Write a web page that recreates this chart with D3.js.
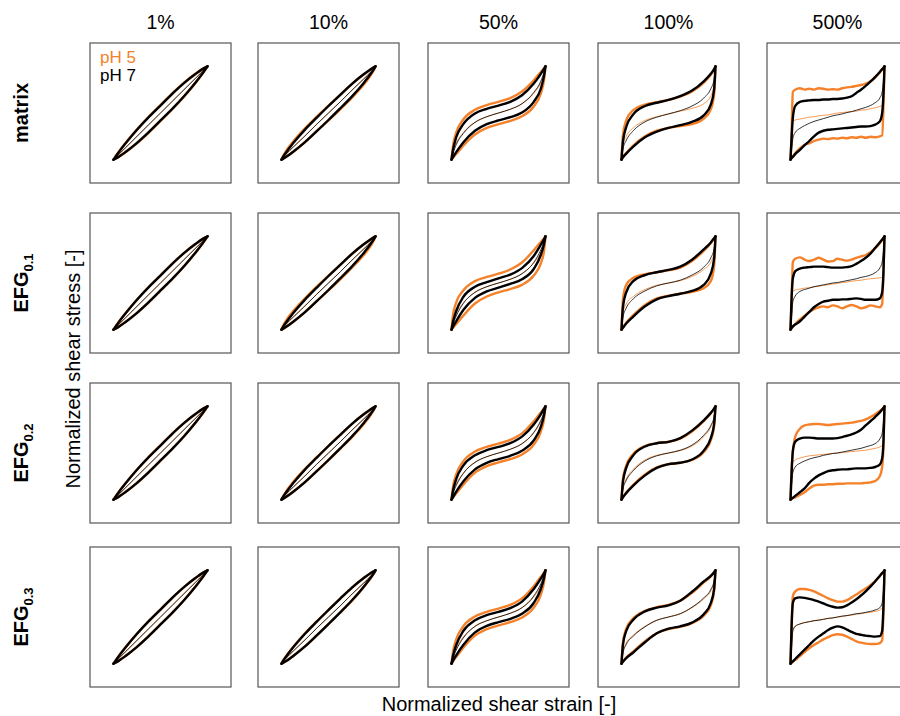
<!DOCTYPE html>
<html>
<head>
<meta charset="utf-8">
<title>Lissajous curves</title>
<script src="https://d3js.org/d3.v7.min.js"></script>
<style>
  body { margin: 0; background: #fff; }
  text { font-family: "Liberation Sans", Arial, sans-serif; }
</style>
</head>
<body>
<div id="chart"></div>
<script>
// strain grid (normalized) used for the 1% - 100% panels, and a finer one for 500%
var strainA = [-1, -0.97, -0.9, -0.75, -0.5, -0.25, 0, 0.25, 0.5, 0.75, 0.9, 0.97, 1];
var strainB = [-1, -0.98, -0.95, -0.9, -0.8, -0.7, -0.6, -0.5, -0.4, -0.3, -0.2, -0.1, 0,
               0.1, 0.2, 0.3, 0.4, 0.5, 0.6, 0.7, 0.8, 0.9, 0.95, 0.98, 1];

var amplitudes = ["1%", "10%", "50%", "100%", "500%"];
var samples = [["matrix", ""], ["EFG", "0.1"], ["EFG", "0.2"], ["EFG", "0.3"]];
var phLabels = ["pH 5", "pH 7"];

// normalized stress, one list per amplitude (upper branch, lower branch, elastic part)
// ---- matrix
var matrixUp5 = [
  [-1, -0.95, -0.85, -0.65, -0.35, -0.08, 0.17, 0.42, 0.65, 0.845, 0.945, 0.985, 1],
  [-1, -0.93, -0.81, -0.61, -0.33, -0.08, 0.16, 0.39, 0.625, 0.83, 0.94, 0.985, 1],
  [-1, -0.72, -0.42, -0.14, 0.07, 0.17, 0.24, 0.32, 0.46, 0.7, 0.88, 0.96, 1],
  [-1, -0.48, -0.16, 0.06, 0.18, 0.23, 0.28, 0.35, 0.46, 0.65, 0.82, 0.93, 1],
  [-1, -0.55, 0.45, 0.5, 0.53, 0.5, 0.52, 0.5, 0.53, 0.52, 0.5, 0.51, 0.5, 0.53, 0.55, 0.56, 0.58, 0.6, 0.63, 0.68, 0.76, 0.87, 0.93, 0.97, 1]
];
var matrixLo5 = [
  [-1, -0.985, -0.945, -0.845, -0.65, -0.42, -0.17, 0.08, 0.35, 0.65, 0.85, 0.95, 1],
  [-1, -0.985, -0.94, -0.83, -0.625, -0.39, -0.16, 0.08, 0.33, 0.61, 0.81, 0.93, 1],
  [-1, -0.96, -0.88, -0.7, -0.46, -0.32, -0.24, -0.17, -0.07, 0.14, 0.42, 0.72, 1],
  [-1, -0.94, -0.86, -0.7, -0.5, -0.38, -0.32, -0.28, -0.24, -0.12, 0.08, 0.4, 1],
  [-1, -0.97, -0.93, -0.86, -0.76, -0.68, -0.65, -0.6, -0.57, -0.55, -0.56, -0.54, -0.55, -0.53, -0.54, -0.52, -0.53, -0.51, -0.53, -0.51, -0.52, -0.5, -0.48, 0.2, 1]
];
var matrixMid5 = [
  [-1, -0.97, -0.9, -0.75, -0.5, -0.25, 0, 0.25, 0.5, 0.75, 0.9, 0.97, 1],
  [-1, -0.96, -0.88, -0.73, -0.49, -0.24, 0, 0.24, 0.49, 0.73, 0.88, 0.96, 1],
  [-1, -0.84, -0.65, -0.42, -0.2, -0.08, 0, 0.08, 0.2, 0.42, 0.65, 0.84, 1],
  [-1, -0.7, -0.5, -0.32, -0.16, -0.08, -0.02, 0.04, 0.1, 0.2, 0.36, 0.62, 1],
  [null, null, -0.17, -0.15, -0.13, -0.11, -0.09, -0.08, -0.06, -0.05, -0.04, -0.02, 0, 0.01, 0.02, 0.03, 0.04, 0.06, 0.07, 0.09, 0.11, 0.14, 0.16, null, null]
];
var matrixUp7 = [
  [-1, -0.955, -0.855, -0.66, -0.36, -0.09, 0.16, 0.41, 0.64, 0.84, 0.945, 0.985, 1],
  [-1, -0.945, -0.84, -0.645, -0.355, -0.1, 0.15, 0.39, 0.625, 0.83, 0.94, 0.985, 1],
  [-1, -0.8, -0.52, -0.24, -0.01, 0.09, 0.16, 0.24, 0.38, 0.63, 0.84, 0.95, 1],
  [-1, -0.62, -0.3, -0.03, 0.15, 0.22, 0.28, 0.36, 0.48, 0.68, 0.84, 0.94, 1],
  [-1, -0.6, -0.1, 0.15, 0.24, 0.26, 0.27, 0.28, 0.28, 0.29, 0.29, 0.3, 0.3, 0.31, 0.33, 0.36, 0.43, 0.5, 0.58, 0.67, 0.77, 0.88, 0.94, 0.97, 1]
];
var matrixLo7 = [
  [-1, -0.985, -0.945, -0.84, -0.64, -0.41, -0.16, 0.09, 0.36, 0.66, 0.855, 0.955, 1],
  [-1, -0.985, -0.94, -0.83, -0.625, -0.39, -0.15, 0.1, 0.355, 0.645, 0.84, 0.945, 1],
  [-1, -0.95, -0.84, -0.63, -0.38, -0.24, -0.16, -0.09, 0.01, 0.24, 0.52, 0.8, 1],
  [-1, -0.95, -0.87, -0.72, -0.52, -0.4, -0.32, -0.26, -0.19, -0.05, 0.18, 0.5, 1],
  [-1, -0.97, -0.94, -0.88, -0.79, -0.69, -0.6, -0.5, -0.42, -0.38, -0.36, -0.35, -0.34, -0.33, -0.32, -0.31, -0.3, -0.29, -0.29, -0.28, -0.25, -0.18, 0, 0.45, 1]
];
var matrixMid7 = [
  [-1, -0.97, -0.9, -0.75, -0.5, -0.25, 0, 0.25, 0.5, 0.75, 0.9, 0.97, 1],
  [-1, -0.96, -0.88, -0.73, -0.49, -0.24, 0, 0.24, 0.49, 0.73, 0.88, 0.96, 1],
  [-1, -0.88, -0.68, -0.44, -0.2, -0.08, 0, 0.08, 0.2, 0.44, 0.68, 0.88, 1],
  [-1, -0.78, -0.59, -0.38, -0.19, -0.09, -0.02, 0.05, 0.15, 0.32, 0.52, 0.72, 1],
  [-1, -0.8, -0.55, -0.42, -0.33, -0.27, -0.22, -0.18, -0.15, -0.12, -0.09, -0.06, -0.04, -0.02, 0.01, 0.03, 0.06, 0.09, 0.12, 0.16, 0.22, 0.32, 0.45, 0.7, 1]
];

// ---- EFG 0.1
var efg1Up5 = [
  [-1, -0.95, -0.85, -0.655, -0.355, -0.085, 0.165, 0.415, 0.645, 0.84, 0.945, 0.985, 1],
  [-1, -0.925, -0.8, -0.6, -0.33, -0.08, 0.16, 0.39, 0.625, 0.83, 0.94, 0.985, 1],
  [-1, -0.7, -0.42, -0.16, 0.04, 0.13, 0.2, 0.29, 0.44, 0.7, 0.88, 0.96, 1],
  [-1, -0.36, -0.04, 0.11, 0.19, 0.23, 0.27, 0.33, 0.47, 0.69, 0.85, 0.95, 1],
  [-1, -0.5, 0.45, 0.52, 0.55, 0.5, 0.47, 0.5, 0.54, 0.5, 0.46, 0.47, 0.52, 0.5, 0.48, 0.5, 0.54, 0.57, 0.6, 0.66, 0.74, 0.85, 0.92, 0.96, 1]
];
var efg1Lo5 = [
  [-1, -0.985, -0.945, -0.84, -0.645, -0.415, -0.165, 0.085, 0.355, 0.655, 0.85, 0.95, 1],
  [-1, -0.985, -0.94, -0.83, -0.625, -0.39, -0.16, 0.08, 0.33, 0.6, 0.8, 0.925, 1],
  [-1, -0.96, -0.88, -0.7, -0.44, -0.29, -0.2, -0.13, -0.04, 0.16, 0.42, 0.7, 1],
  [-1, -0.95, -0.85, -0.69, -0.47, -0.33, -0.27, -0.23, -0.19, -0.11, 0.04, 0.36, 1],
  [-1, -0.97, -0.94, -0.88, -0.78, -0.7, -0.62, -0.56, -0.52, -0.5, -0.52, -0.48, -0.5, -0.54, -0.5, -0.47, -0.5, -0.54, -0.52, -0.48, -0.5, -0.52, -0.45, 0.3, 1]
];
var efg1Mid5 = [
  [-1, -0.97, -0.9, -0.75, -0.5, -0.25, 0, 0.25, 0.5, 0.75, 0.9, 0.97, 1],
  [-1, -0.96, -0.88, -0.73, -0.49, -0.24, 0, 0.24, 0.49, 0.73, 0.88, 0.96, 1],
  [-1, -0.83, -0.65, -0.43, -0.2, -0.08, 0, 0.08, 0.2, 0.43, 0.65, 0.83, 1],
  [-1, -0.66, -0.45, -0.29, -0.14, -0.05, 0, 0.05, 0.14, 0.29, 0.45, 0.66, 1],
  [null, null, -0.17, -0.15, -0.13, -0.11, -0.1, -0.08, -0.07, -0.05, -0.04, -0.02, -0.01, 0.01, 0.02, 0.04, 0.05, 0.06, 0.08, 0.09, 0.1, 0.11, 0.12, null, null]
];
var efg1Up7 = [
  [-1, -0.955, -0.855, -0.66, -0.36, -0.09, 0.16, 0.41, 0.64, 0.84, 0.945, 0.985, 1],
  [-1, -0.945, -0.84, -0.645, -0.355, -0.1, 0.15, 0.39, 0.625, 0.83, 0.94, 0.985, 1],
  [-1, -0.84, -0.6, -0.3, -0.08, 0.02, 0.1, 0.18, 0.32, 0.58, 0.82, 0.94, 1],
  [-1, -0.52, -0.2, 0.04, 0.17, 0.23, 0.28, 0.35, 0.5, 0.72, 0.87, 0.96, 1],
  [-1, -0.4, 0.1, 0.25, 0.31, 0.33, 0.34, 0.35, 0.35, 0.35, 0.34, 0.33, 0.33, 0.33, 0.34, 0.36, 0.41, 0.47, 0.54, 0.63, 0.75, 0.87, 0.93, 0.97, 1]
];
var efg1Lo7 = [
  [-1, -0.985, -0.945, -0.84, -0.64, -0.41, -0.16, 0.09, 0.36, 0.66, 0.855, 0.955, 1],
  [-1, -0.985, -0.94, -0.83, -0.625, -0.39, -0.15, 0.1, 0.355, 0.645, 0.84, 0.945, 1],
  [-1, -0.94, -0.82, -0.58, -0.32, -0.18, -0.1, -0.02, 0.08, 0.3, 0.6, 0.84, 1],
  [-1, -0.96, -0.87, -0.72, -0.5, -0.35, -0.28, -0.23, -0.17, -0.04, 0.2, 0.52, 1],
  [-1, -0.97, -0.93, -0.89, -0.82, -0.72, -0.62, -0.52, -0.45, -0.4, -0.38, -0.36, -0.36, -0.35, -0.35, -0.34, -0.33, -0.34, -0.36, -0.36, -0.36, -0.33, -0.2, 0.3, 1]
];
var efg1Mid7 = [
  [-1, -0.97, -0.9, -0.75, -0.5, -0.25, 0, 0.25, 0.5, 0.75, 0.9, 0.97, 1],
  [-1, -0.96, -0.88, -0.73, -0.49, -0.24, 0, 0.24, 0.49, 0.73, 0.88, 0.96, 1],
  [-1, -0.89, -0.71, -0.44, -0.2, -0.08, 0, 0.08, 0.2, 0.44, 0.71, 0.89, 1],
  [-1, -0.74, -0.54, -0.34, -0.17, -0.06, 0, 0.06, 0.17, 0.34, 0.54, 0.74, 1],
  [-1, -0.75, -0.4, -0.28, -0.18, -0.14, -0.11, -0.08, -0.06, -0.04, -0.02, 0, 0.01, 0.03, 0.05, 0.07, 0.09, 0.12, 0.14, 0.17, 0.22, 0.32, 0.45, 0.7, 1]
];

// ---- EFG 0.2
var efg2Up5 = [
  [-1, -0.95, -0.85, -0.655, -0.355, -0.085, 0.165, 0.415, 0.645, 0.84, 0.945, 0.985, 1],
  [-1, -0.935, -0.82, -0.62, -0.34, -0.09, 0.155, 0.39, 0.625, 0.83, 0.94, 0.985, 1],
  [-1, -0.74, -0.46, -0.18, 0.03, 0.13, 0.2, 0.28, 0.42, 0.68, 0.87, 0.96, 1],
  [-1, -0.57, -0.27, -0.02, 0.15, 0.21, 0.24, 0.31, 0.46, 0.68, 0.85, 0.95, 1],
  [-1, -0.4, 0.0, 0.35, 0.52, 0.59, 0.61, 0.62, 0.62, 0.61, 0.6, 0.61, 0.62, 0.63, 0.64, 0.65, 0.67, 0.69, 0.72, 0.77, 0.83, 0.9, 0.94, 0.97, 1]
];
var efg2Lo5 = [
  [-1, -0.985, -0.945, -0.84, -0.645, -0.415, -0.165, 0.085, 0.355, 0.655, 0.85, 0.95, 1],
  [-1, -0.985, -0.94, -0.83, -0.625, -0.39, -0.155, 0.09, 0.34, 0.62, 0.82, 0.935, 1],
  [-1, -0.96, -0.87, -0.68, -0.42, -0.28, -0.2, -0.13, -0.03, 0.18, 0.46, 0.74, 1],
  [-1, -0.95, -0.85, -0.68, -0.46, -0.31, -0.24, -0.21, -0.15, 0.02, 0.27, 0.57, 1],
  [-1, -0.99, -0.97, -0.95, -0.9, -0.84, -0.76, -0.7, -0.68, -0.68, -0.67, -0.67, -0.66, -0.66, -0.65, -0.65, -0.65, -0.65, -0.64, -0.63, -0.6, -0.5, -0.3, 0.2, 1]
];
var efg2Mid5 = [
  [-1, -0.97, -0.9, -0.75, -0.5, -0.25, 0, 0.25, 0.5, 0.75, 0.9, 0.97, 1],
  [-1, -0.96, -0.88, -0.73, -0.49, -0.24, 0, 0.24, 0.49, 0.73, 0.88, 0.96, 1],
  [-1, -0.85, -0.67, -0.43, -0.2, -0.08, 0, 0.08, 0.2, 0.43, 0.67, 0.85, 1],
  [-1, -0.76, -0.56, -0.35, -0.15, -0.05, 0, 0.05, 0.15, 0.35, 0.56, 0.76, 1],
  [null, null, -0.2, -0.15, -0.11, -0.08, -0.06, -0.05, -0.04, -0.03, -0.02, -0.01, 0, 0.01, 0.02, 0.03, 0.04, 0.05, 0.06, 0.08, 0.1, 0.13, 0.16, null, null]
];
var efg2Up7 = [
  [-1, -0.955, -0.855, -0.66, -0.36, -0.09, 0.16, 0.41, 0.64, 0.84, 0.945, 0.985, 1],
  [-1, -0.945, -0.84, -0.645, -0.355, -0.1, 0.15, 0.39, 0.625, 0.83, 0.94, 0.985, 1],
  [-1, -0.82, -0.56, -0.27, -0.05, 0.06, 0.13, 0.21, 0.35, 0.61, 0.83, 0.95, 1],
  [-1, -0.62, -0.32, -0.05, 0.14, 0.21, 0.24, 0.32, 0.48, 0.7, 0.86, 0.95, 1],
  [-1, -0.5, 0.05, 0.24, 0.31, 0.33, 0.33, 0.32, 0.31, 0.31, 0.31, 0.31, 0.32, 0.34, 0.37, 0.4, 0.44, 0.5, 0.59, 0.68, 0.77, 0.87, 0.93, 0.97, 1]
];
var efg2Lo7 = [
  [-1, -0.985, -0.945, -0.84, -0.64, -0.41, -0.16, 0.09, 0.36, 0.66, 0.855, 0.955, 1],
  [-1, -0.985, -0.94, -0.83, -0.625, -0.39, -0.15, 0.1, 0.355, 0.645, 0.84, 0.945, 1],
  [-1, -0.95, -0.83, -0.61, -0.35, -0.21, -0.13, -0.06, 0.05, 0.27, 0.56, 0.82, 1],
  [-1, -0.95, -0.86, -0.7, -0.48, -0.32, -0.24, -0.21, -0.14, 0.05, 0.32, 0.62, 1],
  [-1, -0.98, -0.96, -0.92, -0.84, -0.76, -0.64, -0.55, -0.48, -0.43, -0.39, -0.37, -0.36, -0.35, -0.35, -0.34, -0.33, -0.33, -0.33, -0.32, -0.3, -0.25, -0.12, 0.3, 1]
];
var efg2Mid7 = [
  [-1, -0.97, -0.9, -0.75, -0.5, -0.25, 0, 0.25, 0.5, 0.75, 0.9, 0.97, 1],
  [-1, -0.96, -0.88, -0.73, -0.49, -0.24, 0, 0.24, 0.49, 0.73, 0.88, 0.96, 1],
  [-1, -0.88, -0.7, -0.44, -0.2, -0.08, 0, 0.08, 0.2, 0.44, 0.7, 0.88, 1],
  [-1, -0.78, -0.59, -0.38, -0.17, -0.06, 0, 0.06, 0.17, 0.38, 0.59, 0.78, 1],
  [-1, -0.7, -0.42, -0.3, -0.22, -0.17, -0.13, -0.1, -0.08, -0.05, -0.03, -0.01, 0, 0.02, 0.04, 0.06, 0.08, 0.1, 0.13, 0.16, 0.2, 0.3, 0.42, 0.7, 1]
];

// ---- EFG 0.3
var efg3Up5 = [
  [-1, -0.955, -0.855, -0.66, -0.36, -0.09, 0.16, 0.41, 0.64, 0.84, 0.945, 0.985, 1],
  [-1, -0.94, -0.835, -0.64, -0.35, -0.095, 0.155, 0.395, 0.63, 0.835, 0.945, 0.985, 1],
  [-1, -0.76, -0.48, -0.2, 0.01, 0.11, 0.18, 0.26, 0.4, 0.66, 0.86, 0.95, 1],
  [-1, -0.56, -0.25, -0.03, 0.13, 0.21, 0.26, 0.35, 0.52, 0.74, 0.87, 0.95, 1],
  [-1, -0.3, 0.45, 0.55, 0.6, 0.6, 0.58, 0.55, 0.5, 0.45, 0.4, 0.36, 0.33, 0.33, 0.36, 0.42, 0.48, 0.55, 0.61, 0.68, 0.77, 0.88, 0.94, 0.97, 1]
];
var efg3Lo5 = [
  [-1, -0.985, -0.945, -0.84, -0.64, -0.41, -0.16, 0.09, 0.36, 0.66, 0.855, 0.955, 1],
  [-1, -0.985, -0.945, -0.835, -0.63, -0.395, -0.155, 0.095, 0.35, 0.64, 0.835, 0.94, 1],
  [-1, -0.95, -0.86, -0.66, -0.4, -0.26, -0.18, -0.11, -0.01, 0.2, 0.48, 0.76, 1],
  [-1, -0.95, -0.87, -0.74, -0.52, -0.35, -0.26, -0.21, -0.13, 0.03, 0.25, 0.56, 1],
  [-1, -0.98, -0.96, -0.92, -0.84, -0.75, -0.67, -0.6, -0.54, -0.48, -0.43, -0.39, -0.37, -0.38, -0.42, -0.47, -0.52, -0.55, -0.57, -0.58, -0.58, -0.56, -0.5, 0.2, 1]
];
var efg3Mid5 = [
  [-1, -0.97, -0.9, -0.75, -0.5, -0.25, 0, 0.25, 0.5, 0.75, 0.9, 0.97, 1],
  [-1, -0.96, -0.88, -0.73, -0.49, -0.24, 0, 0.24, 0.49, 0.73, 0.88, 0.96, 1],
  [-1, -0.86, -0.67, -0.43, -0.2, -0.08, 0, 0.08, 0.2, 0.43, 0.67, 0.86, 1],
  [-1, -0.76, -0.56, -0.39, -0.2, -0.07, 0, 0.07, 0.2, 0.39, 0.56, 0.76, 1],
  [null, null, -0.25, -0.2, -0.15, -0.12, -0.1, -0.08, -0.06, -0.05, -0.03, -0.02, 0, 0.01, 0.03, 0.04, 0.06, 0.07, 0.09, 0.1, 0.12, 0.15, 0.2, null, null]
];
var efg3Up7 = [
  [-1, -0.955, -0.855, -0.66, -0.36, -0.09, 0.16, 0.41, 0.64, 0.84, 0.945, 0.985, 1],
  [-1, -0.945, -0.845, -0.65, -0.36, -0.1, 0.15, 0.395, 0.63, 0.835, 0.945, 0.985, 1],
  [-1, -0.84, -0.6, -0.3, -0.07, 0.04, 0.11, 0.19, 0.33, 0.6, 0.82, 0.94, 1],
  [-1, -0.6, -0.3, -0.06, 0.12, 0.2, 0.25, 0.35, 0.54, 0.76, 0.88, 0.96, 1],
  [-1, -0.3, 0.3, 0.4, 0.42, 0.41, 0.39, 0.36, 0.33, 0.29, 0.25, 0.22, 0.2, 0.21, 0.25, 0.31, 0.38, 0.46, 0.55, 0.65, 0.76, 0.88, 0.94, 0.97, 1]
];
var efg3Lo7 = [
  [-1, -0.985, -0.945, -0.84, -0.64, -0.41, -0.16, 0.09, 0.36, 0.66, 0.855, 0.955, 1],
  [-1, -0.985, -0.945, -0.835, -0.63, -0.395, -0.15, 0.1, 0.36, 0.65, 0.845, 0.945, 1],
  [-1, -0.94, -0.82, -0.6, -0.33, -0.19, -0.11, -0.04, 0.07, 0.3, 0.6, 0.84, 1],
  [-1, -0.96, -0.88, -0.76, -0.54, -0.35, -0.25, -0.2, -0.12, 0.06, 0.3, 0.6, 1],
  [-1, -0.98, -0.95, -0.9, -0.8, -0.7, -0.6, -0.5, -0.42, -0.35, -0.28, -0.23, -0.2, -0.22, -0.27, -0.32, -0.36, -0.38, -0.4, -0.41, -0.42, -0.41, -0.3, 0.3, 1]
];
var efg3Mid7 = [
  [-1, -0.97, -0.9, -0.75, -0.5, -0.25, 0, 0.25, 0.5, 0.75, 0.9, 0.97, 1],
  [-1, -0.96, -0.88, -0.73, -0.49, -0.24, 0, 0.24, 0.49, 0.73, 0.88, 0.96, 1],
  [-1, -0.89, -0.71, -0.45, -0.2, -0.08, 0, 0.08, 0.2, 0.45, 0.71, 0.89, 1],
  [-1, -0.78, -0.59, -0.41, -0.21, -0.07, 0, 0.07, 0.21, 0.41, 0.59, 0.78, 1],
  [-1, -0.7, -0.3, -0.2, -0.15, -0.12, -0.1, -0.08, -0.07, -0.05, -0.03, -0.02, 0, 0.02, 0.03, 0.05, 0.07, 0.08, 0.1, 0.12, 0.15, 0.2, 0.3, 0.6, 1]
];

// table built from the lists above: [sample][pH] -> curves
var table = [
  [[matrixUp5, matrixLo5, matrixMid5], [matrixUp7, matrixLo7, matrixMid7]],
  [[efg1Up5, efg1Lo5, efg1Mid5], [efg1Up7, efg1Lo7, efg1Mid7]],
  [[efg2Up5, efg2Lo5, efg2Mid5], [efg2Up7, efg2Lo7, efg2Mid7]],
  [[efg3Up5, efg3Lo5, efg3Mid5], [efg3Up7, efg3Lo7, efg3Mid7]]
];

var colors = ["#f5812a", "#000000"];

var width = 900, height = 716;
var colLeft = [90, 258, 428, 598, 767],
    rowTop = [43, 213, 383, 547],
    cellW = 141, cellH = 140;

var svg = d3.select("#chart").append("svg")
  .attr("width", width)
  .attr("height", height);

var x = d3.scaleLinear().domain([-1.5, 1.5]).range([0, cellW]);
var y = d3.scaleLinear().domain([-1.5, 1.5]).range([cellH, 0]);

var line = d3.line()
  .defined(function(d) { return d[1] != null; })
  .x(function(d) { return x(d[0]); })
  .y(function(d) { return y(d[1]); })
  .curve(d3.curveMonotoneX);

function pairs(grid, vals) {
  return grid.map(function(g, i) { return [g, vals[i]]; });
}

table.forEach(function(row, r) {
  amplitudes.forEach(function(amp, c) {
    var grid = c == 4 ? strainB : strainA;
    var g = svg.append("g")
      .attr("transform", "translate(" + colLeft[c] + "," + rowTop[r] + ")");

    g.append("rect")
      .attr("width", cellW).attr("height", cellH)
      .attr("fill", "none")
      .attr("stroke", "#555")
      .attr("stroke-width", 1.2);

    row.forEach(function(ph, p) {
      // thick outer loop: upper and lower branch
      [ph[0][c], ph[1][c]].forEach(function(vals) {
        g.append("path")
          .attr("d", line(pairs(grid, vals)))
          .attr("fill", "none")
          .attr("stroke", colors[p])
          .attr("stroke-width", 2.4)
          .attr("stroke-linejoin", "round")
          .attr("stroke-linecap", "round");
      });
      // thin elastic stress line
      g.append("path")
        .attr("d", line(pairs(grid, ph[2][c])))
        .attr("fill", "none")
        .attr("stroke", colors[p])
        .attr("stroke-width", 0.8);
    });
  });
});

// column titles
svg.selectAll(".amp")
  .data(amplitudes).enter()
  .append("text")
    .attr("x", function(d, i) { return colLeft[i] + cellW / 2; })
    .attr("y", 29)
    .attr("text-anchor", "middle")
    .style("font-size", "19.5px")
    .text(function(d) { return d; });

// row labels
samples.forEach(function(s, r) {
  var t = svg.append("text")
    .attr("transform", "translate(28," + (rowTop[r] + cellH / 2) + ") rotate(-90)")
    .attr("text-anchor", "middle")
    .style("font-size", "20px")
    .style("font-weight", "bold");
  t.append("tspan").text(s[0]);
  if (s[1]) {
    t.append("tspan").attr("dy", 5).style("font-size", "13px").text(s[1]);
  }
});

// legend
phLabels.forEach(function(l, i) {
  svg.append("text")
    .attr("x", 100)
    .attr("y", 63 + i * 18)
    .style("font-size", "17px")
    .attr("fill", colors[i])
    .text(l);
});

// axis titles
svg.append("text")
  .attr("transform", "translate(80,369) rotate(-90)")
  .attr("text-anchor", "middle")
  .style("font-size", "20px")
  .text("Normalized shear stress [-]");

svg.append("text")
  .attr("x", 499)
  .attr("y", 711)
  .attr("text-anchor", "middle")
  .style("font-size", "20px")
  .text("Normalized shear strain [-]");
</script>
</body>
</html>
